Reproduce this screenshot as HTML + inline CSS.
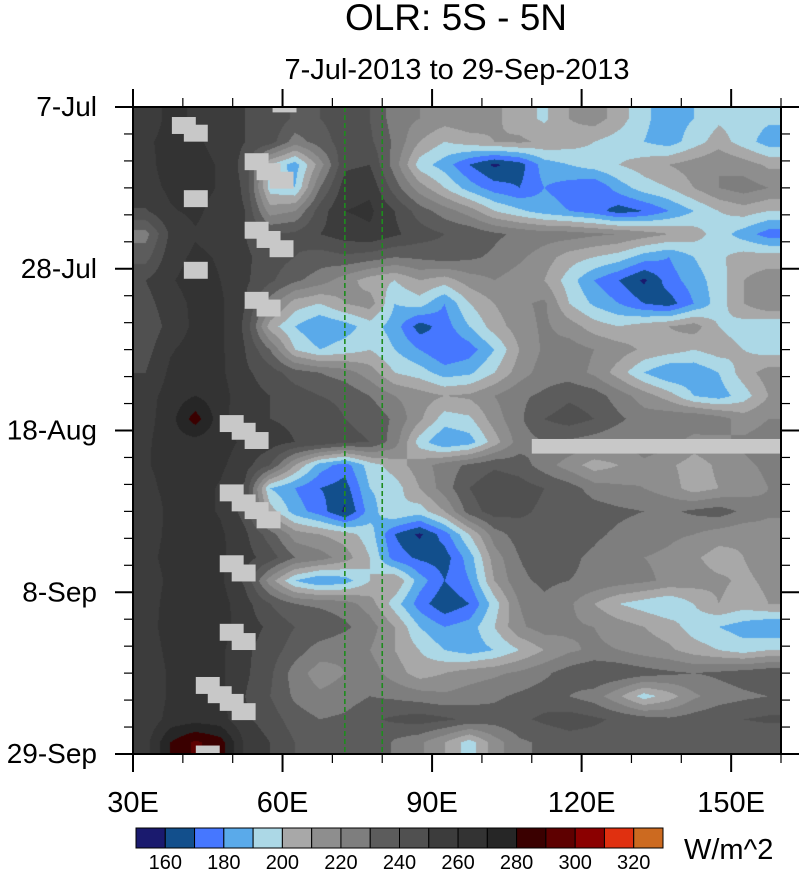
<!DOCTYPE html>
<html><head><meta charset="utf-8"><style>
body{margin:0;background:#fff;width:800px;height:869px;overflow:hidden;font-family:"Liberation Sans",sans-serif;}
#wrap{position:relative;width:800px;height:869px;}
svg text{font-family:"Liberation Sans",sans-serif;}
</style></head><body>
<div id="wrap">
<canvas id="cv" width="648" height="647" style="position:absolute;left:133px;top:107px"></canvas>
<svg id="sv" width="800" height="869" style="position:absolute;left:0;top:0"></svg>
</div>
<script>
// ---- data ----
const lons = [32.5,37.5,42.5,47.5,52.5,57.5,62.5,67.5,72.5,77.5,82.5,87.5,92.5,97.5,102.5,107.5,112.5,117.5,122.5,127.5,132.5,137.5,142.5,147.5,152.5,157.5];
const days = [1.5,4.5,7.5,10.5,13.5,16.5,19.5,22.5,25.5,28.5,31.5,34.5,37.5,40.5,43.5,46.5,49.5,52.5,55.5,58.5,61.5,64.5,67.5,70.5,73.5,76.5,79.5,82.5];
const olr = [
[256,262,259,256,250,248,238,240,245,240,225,220,215,218,212,205,198,210,215,205,192,185,190,198,195,192],
[259,262,262,256,250,245,225,235,245,242,228,210,200,205,210,212,208,205,200,195,190,185,195,205,195,185],
[257,264,264,259,246,200,185,215,248,250,225,195,185,170,158,165,185,190,195,200,205,210,215,220,215,208],
[256,262,264,259,248,195,190,230,255,258,235,215,200,185,175,170,180,175,170,185,195,200,210,220,225,220],
[249,259,262,256,250,215,220,245,260,262,250,235,225,215,200,192,185,180,175,165,170,180,190,200,205,200],
[226,252,259,256,250,240,242,250,255,258,252,245,240,238,232,228,225,225,222,220,215,210,205,195,185,175],
[236,256,262,259,252,245,240,235,238,235,230,232,235,232,228,222,215,205,200,195,185,180,190,198,205,205],
[250,259,264,260,252,242,232,225,215,205,200,210,205,215,220,215,210,195,180,170,158,175,185,195,210,215],
[246,256,262,262,250,225,205,200,210,215,190,195,180,200,210,218,222,200,188,180,170,165,180,195,210,220],
[242,254,262,262,248,205,190,180,185,195,185,165,175,190,205,215,222,215,205,200,205,210,215,200,195,190],
[246,259,264,262,250,230,200,190,195,200,190,180,170,175,190,210,222,225,220,215,208,205,200,205,200,195],
[250,262,266,262,252,245,235,230,225,215,200,195,185,188,200,215,225,225,218,205,190,180,182,190,205,215],
[256,264,270,264,254,250,245,240,238,230,220,215,210,212,220,228,232,238,235,225,215,205,190,185,195,210],
[256,266,285,264,252,250,248,245,240,238,228,212,195,198,215,228,240,245,240,232,225,228,230,225,215,220],
[258,266,266,264,258,255,250,248,242,240,225,195,180,185,205,225,230,228,225,222,225,225,215,218,222,225],
[259,264,264,262,254,240,210,185,175,195,205,215,225,232,238,235,225,215,205,210,218,212,205,212,218,222],
[256,264,264,259,248,190,180,170,165,190,195,210,225,240,248,245,240,235,225,222,220,215,205,210,215,220],
[250,264,264,259,246,205,185,175,158,185,200,195,210,235,245,242,238,240,235,232,230,228,232,235,228,222],
[252,264,266,262,252,235,215,210,205,195,170,158,175,200,225,235,238,235,232,228,225,222,220,215,212,215],
[254,266,266,262,254,245,230,225,215,200,175,168,165,185,215,230,235,232,228,222,220,218,212,205,210,215],
[250,264,266,262,248,215,190,180,185,200,210,185,170,180,210,228,232,230,228,225,222,218,215,212,208,212],
[252,266,270,264,254,240,230,228,225,215,195,175,162,170,195,220,228,222,210,200,195,190,200,210,205,210],
[254,266,270,264,255,248,240,238,232,225,210,190,180,185,200,218,225,222,220,215,210,205,195,190,185,180],
[252,264,266,262,252,245,235,225,222,220,210,200,190,185,190,200,210,218,222,220,215,212,205,200,195,200],
[250,262,266,262,252,242,225,215,220,225,215,205,210,215,218,222,228,235,240,238,235,232,230,232,235,238],
[250,262,264,262,250,240,228,222,225,230,228,225,222,225,228,232,235,230,225,212,195,205,218,225,228,230],
[252,264,266,264,252,245,235,230,232,238,242,245,242,238,235,238,242,245,242,238,235,232,235,238,240,242],
[256,280,292,285,258,250,240,235,238,240,228,222,210,195,215,228,232,235,235,232,230,232,235,232,230,230]
];
// missing-data boxes: lon of left edge, day of top edge
const missLon = [37.8,40.2,58,52.4,54.8,57.4,40.2,52.4,54.8,57.4,40.2,52.4,54.8,47.4,49.8,52.4,47.4,49.8,52.4,54.8,47.4,49.8,47.4,49.8,42.6,45,47.4,49.8,42.6];
const missDay = [1.3,2.3,-1.5,6.0,7.3,8.4,10.8,14.9,16.1,17.3,20.1,24.0,25.0,40.0,41.0,42.2,49.0,50.3,51.3,52.5,58.2,59.4,67.1,68.3,74.0,75.2,76.2,77.4,82.9];
const levels = [160,170,180,190,200,210,220,230,240,250,260,270,280,290,300,310,320];
const colors = ["#1a1a6e","#124f8c","#4677ff","#5aaaea","#acd8e6","#a8a8a8","#8e8e8e","#7e7e7e","#5c5c5c","#505050","#3c3c3c","#333333","#262626","#3a0000","#5e0000","#8b0000","#e03010","#cc6a20"];
const cbLabels = [160,180,200,220,240,260,280,300,320];
const yTickLabels = ["7-Jul","28-Jul","18-Aug","8-Sep","29-Sep"];
const yTickDays = [0,21,42,63,84];
const xTickLons = [30,60,90,120,150];
const refLons = [72.5,80];

// ---- axes ----
const X0=133,X1=781,Y0=107,Y1=754,LON0=30,LON1=160,D0=0,D1=84;
const xs = l => X0+(l-LON0)/(LON1-LON0)*(X1-X0);
const ys = d => Y0+(d-D0)/(D1-D0)*(Y1-Y0);
function hex(c){return [parseInt(c.substr(1,2),16),parseInt(c.substr(3,2),16),parseInt(c.substr(5,2),16)];}

// ---- field ----
const cv=document.getElementById('cv'),ctx=cv.getContext('2d');
const W=cv.width,H=cv.height,img=ctx.createImageData(W,H);
const rgb=colors.map(hex);
function interp(lon,day){
  let fi=(lon-lons[0])/(lons[1]-lons[0]);fi=Math.max(0,Math.min(lons.length-1,fi));
  let fj=(day-days[0])/(days[1]-days[0]);fj=Math.max(0,Math.min(days.length-1,fj));
  const i0=Math.min(Math.floor(fi),lons.length-2),j0=Math.min(Math.floor(fj),days.length-2);
  const a=fi-i0,b=fj-j0;
  return olr[j0][i0]*(1-a)*(1-b)+olr[j0][i0+1]*a*(1-b)+olr[j0+1][i0]*(1-a)*b+olr[j0+1][i0+1]*a*b;
}
for(let py=0;py<H;py++){
  const day=D0+(py+0.5)/H*(D1-D0);
  for(let px=0;px<W;px++){
    const lon=LON0+(px+0.5)/W*(LON1-LON0);
    const v=interp(lon,day);
    let k=0;while(k<levels.length&&v>=levels[k])k++;
    const c=rgb[k],o=(py*W+px)*4;
    img.data[o]=c[0];img.data[o+1]=c[1];img.data[o+2]=c[2];img.data[o+3]=255;
  }
}
ctx.putImageData(img,0,0);

// ---- svg overlay ----
const sv=document.getElementById('sv'),NS="http://www.w3.org/2000/svg";
function mk(tag,attrs,parent){const e=document.createElementNS(NS,tag);for(const k in attrs)e.setAttribute(k,attrs[k]);(parent||sv).appendChild(e);return e;}

for(let i=0;i<missLon.length;i++){
  const x=xs(missLon[i]),y=Math.max(Y0,ys(missDay[i])),y2=Math.min(Y1,ys(missDay[i]+2.2));
  const r=mk('rect',{x:x,y:y,width:xs(missLon[i]+4.8)-x,height:y2-y,fill:'#c8c8c8'});
  
  
}
const bar=mk('rect',{x:xs(110),y:ys(43.1),width:X1-xs(110),height:ys(45)-ys(43.1),fill:'#c8c8c8'});



refLons.forEach(l=>{
  const ln=mk('line',{x1:xs(l),x2:xs(l),y1:Y0,y2:Y1,stroke:'#1e8c1e','stroke-width':1.6,'stroke-dasharray':'5,3'});
  
  
});

const fr=mk('rect',{x:X0,y:Y0,width:X1-X0,height:Y1-Y0,fill:'none',stroke:'#000','stroke-width':2});



for(let l=30;l<=160;l+=10){
  const maj=xTickLons.includes(l),len=maj?18:9,x=xs(l);
  [[Y1,Y1+len],[Y0,Y0-len]].forEach(p=>{const t=mk('line',{x1:x,x2:x,y1:p[0],y2:p[1],stroke:'#000','stroke-width':maj?2:1.2});
    
    });
}
for(let d=0;d<=84;d+=3.5){
  const maj=yTickDays.includes(d),len=maj?18:9,y=ys(d);
  [[X0,X0-len],[X1,X1+len]].forEach(p=>{const t=mk('line',{x1:p[0],x2:p[1],y1:y,y2:y,stroke:'#000','stroke-width':maj?2:1.2});
    
    });
}
xTickLons.forEach(l=>{
  const t=mk('text',{x:xs(l),y:Y1+58,'text-anchor':'middle','font-size':29});t.textContent=l+'E';
  
  
});
yTickLabels.forEach((s,i)=>{
  const t=mk('text',{x:X0-36,y:ys(yTickDays[i])+9,'text-anchor':'end','font-size':28});t.textContent=s;
  
  
});

const t1=mk('text',{x:456,y:30,'text-anchor':'middle','font-size':37});t1.textContent='OLR: 5S - 5N';


const t2=mk('text',{x:457,y:79,'text-anchor':'middle','font-size':29});t2.textContent='7-Jul-2013 to 29-Sep-2013';



const CB0=136,CB1=663,CBY=828,CBH=20,bw=(CB1-CB0)/colors.length;
colors.forEach((c,i)=>{
  const r=mk('rect',{x:CB0+i*bw,y:CBY,width:bw,height:CBH,fill:c,stroke:'#000','stroke-width':1});
  
  
});
cbLabels.forEach(v=>{
  const k=levels.indexOf(v)+1;
  const t=mk('text',{x:CB0+k*bw,y:869,'text-anchor':'middle','font-size':20});t.textContent=v;
  
  
});
const u=mk('text',{x:684,y:859,'font-size':29});u.textContent='W/m^2';


</script>
</body></html>
